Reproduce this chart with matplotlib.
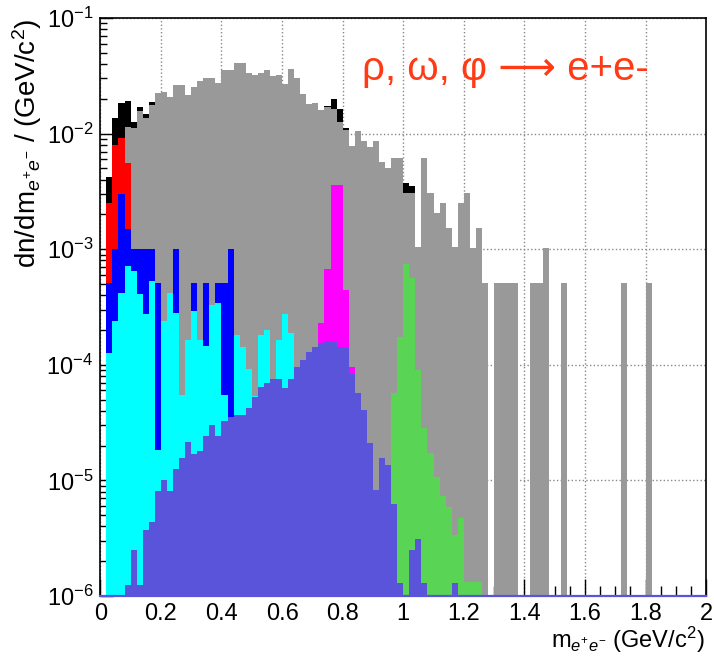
import numpy as np
import matplotlib
matplotlib.use('Agg')
import matplotlib.pyplot as plt
from matplotlib.ticker import MultipleLocator, FuncFormatter, LogLocator

plt.rcParams['font.family'] = ['Liberation Sans', 'DejaVu Sans']
plt.rcParams['mathtext.fontset'] = 'custom'
plt.rcParams['mathtext.rm'] = 'Liberation Sans'
plt.rcParams['mathtext.it'] = 'Liberation Sans:italic'
plt.rcParams['mathtext.bf'] = 'Liberation Sans:bold'

# 100 bins of 0.02 GeV/c^2 between 0 and 2
bin_edges = np.linspace(0, 2, 101)

# each series: first filled bin + bin contents
black_start = 1
black = [4.2e-3, 1.37e-2, 1.85e-2, 1.93e-2, 1.27e-2, 1.70e-2, 1.48e-2, 1.89e-2,
         2.26e-2, 2.30e-2, 2.06e-2, 2.63e-2, 2.63e-2,
         2.16e-2, 2.55e-2, 2.85e-2, 3.01e-2, 3.01e-2,
         2.75e-2, 3.55e-2, 3.55e-2, 4.06e-2, 4.06e-2,
         3.36e-2, 3.21e-2, 3.36e-2, 3.55e-2, 3.15e-2,
         3.21e-2, 2.69e-2, 3.62e-2, 3.01e-2, 2.20e-2,
         1.80e-2, 1.83e-2, 1.60e-2, 1.75e-2, 1.98e-2,
         1.62e-2, 1.11e-2, 7.8e-3, 1.05e-2, 8.7e-3,
         7.7e-3, 8.7e-3, 5.65e-3, 5.07e-3, 6.2e-3,
         6.2e-3, 3.71e-3, 3.52e-3, 1.05e-3, 6.1e-3,
         3.08e-3, 2.05e-3, 2.53e-3, 1.53e-3, 1.05e-3,
         2.53e-3, 3.04e-3, 1.02e-3, 1.53e-3, 5.1e-4,
         0, 5.1e-4, 5.1e-4, 5.1e-4, 5.1e-4,
         0, 0, 5.1e-4, 5.1e-4, 1.02e-3,
         0, 0, 5.1e-4, 0, 0,
         0, 0, 0, 0, 0,
         0, 0, 5.1e-4, 0, 0,
         0, 5.1e-4]

gray_start = 4
gray = [1.13e-2, 1.11e-2, 1.57e-2, 1.37e-2, 1.77e-2,
        2.26e-2, 2.30e-2, 2.06e-2, 2.63e-2, 2.63e-2,
        2.16e-2, 2.55e-2, 2.85e-2, 3.01e-2, 3.01e-2,
        2.75e-2, 3.55e-2, 3.55e-2, 4.06e-2, 4.06e-2,
        3.36e-2, 3.21e-2, 3.36e-2, 3.55e-2, 3.15e-2,
        3.21e-2, 2.69e-2, 3.62e-2, 3.01e-2, 2.20e-2,
        1.80e-2, 1.83e-2, 1.60e-2, 1.71e-2, 1.62e-2,
        1.27e-2, 1.07e-2, 7.8e-3, 1.05e-2, 8.7e-3,
        7.7e-3, 8.7e-3, 5.65e-3, 5.07e-3, 6.2e-3,
        6.2e-3, 3.04e-3, 3.04e-3, 1.05e-3, 6.1e-3,
        3.08e-3, 2.05e-3, 2.53e-3, 1.53e-3, 1.05e-3,
        2.53e-3, 3.04e-3, 1.02e-3, 1.53e-3, 5.1e-4,
        0, 5.1e-4, 5.1e-4, 5.1e-4, 5.1e-4,
        0, 0, 5.1e-4, 5.1e-4, 1.02e-3,
        0, 0, 5.1e-4, 0, 0,
        0, 0, 0, 0, 0,
        0, 0, 5.1e-4, 0, 0,
        0, 5.1e-4]

red_start = 1
red = [2.49e-3, 7.96e-3, 9.1e-3, 5.53e-3]

blue_start = 1
blue = [5.07e-4, 1.0e-3, 3.0e-3, 1.5e-3, 1.0e-3, 1.0e-3, 1.0e-3, 1.0e-3,
        5.1e-4, 0, 0, 1.0e-3, 0, 0, 5.1e-4, 0, 5.1e-4, 0, 5.1e-4, 5.1e-4, 1.0e-3]

cyan_start = 1
cyan = [1.27e-4, 2.39e-4, 4.2e-4, 7.2e-4, 6.5e-4, 4.07e-4, 2.75e-4, 5.3e-4,
        1.83e-5, 2.39e-4, 4.2e-4, 2.8e-4, 5.5e-5, 1.64e-4, 2.9e-4, 1.64e-4,
        1.46e-4, 3.29e-4, 3.45e-4, 5.5e-5, 0, 1.81e-4, 1.44e-4, 9.2e-5,
        5.4e-5, 1.81e-4, 2.0e-4, 0, 1.64e-4, 2.75e-4, 1.88e-4]

magenta_start = 36
magenta = [2.31e-4, 6.8e-4, 3.59e-3, 3.59e-3, 4.43e-4, 9.6e-5]

green_start = 48
green = [5.7e-5, 1.75e-4, 7.4e-4, 5.6e-4, 9.0e-5, 2.83e-5, 1.72e-5, 1.08e-5,
         7.3e-6, 5.9e-6, 3.37e-6, 4.7e-6, 1.33e-6, 1.33e-6, 1.33e-6]

slate_start = 4
slate = [1.25e-6, 2.5e-6, 1.25e-6, 3.7e-6, 4.4e-6, 8.1e-6, 1.0e-5, 8.1e-6,
         1.25e-5, 1.55e-5, 2.16e-5, 1.68e-5, 1.81e-5, 2.42e-5, 3.0e-5, 2.42e-5,
         3.28e-5, 3.55e-5, 3.68e-5, 3.68e-5, 4.2e-5, 5.3e-5, 6.4e-5, 6.9e-5,
         7.6e-5, 7.6e-5, 6.25e-5, 7.6e-5, 9.6e-5, 1.1e-4, 1.3e-4, 1.44e-4,
         1.55e-4, 1.6e-4, 1.58e-4, 1.44e-4, 1.39e-4, 8.4e-5, 5.7e-5, 4.06e-5,
         2.12e-5, 8.3e-6, 1.55e-5, 1.36e-5, 6.3e-6, 1.29e-6, 0, 2.5e-6,
         3.1e-6, 1.29e-6, 0, 0, 0, 0, 1.29e-6]


def full(start, vals):
    h = np.zeros(len(bin_edges) - 1)
    h[start:start + len(vals)] = vals
    return h


series = [
    (black_start, black, '#000000'),
    (gray_start, gray, '#999999'),
    (red_start, red, '#ff0000'),
    (blue_start, blue, '#0000ff'),
    (cyan_start, cyan, '#00ffff'),
    (magenta_start, magenta, '#ff00ff'),
    (green_start, green, '#59d454'),
    (slate_start, slate, '#5954d9'),
]

fig = plt.figure(figsize=(7.14, 6.58), dpi=100)
ax = fig.add_axes([0.1405, 0.0942, 0.8485, 0.8784])

floor = 1e-9
for start, vals, col in series:
    h = full(start, vals)
    ax.stairs(np.where(h > 0, h, floor), bin_edges, fill=True,
              baseline=floor, color=col, lw=0)

ax.set_yscale('log')
ax.set_xlim(0, 2)
ax.set_ylim(1e-6, 1e-1)

ax.xaxis.set_major_locator(MultipleLocator(0.2))
ax.xaxis.set_minor_locator(MultipleLocator(0.05))
ax.xaxis.set_major_formatter(FuncFormatter(lambda v, p: '%g' % round(v, 2)))
ax.yaxis.set_major_locator(LogLocator(base=10, numticks=10))
ax.yaxis.set_minor_locator(LogLocator(base=10, subs=np.arange(2, 10), numticks=20))
ax.yaxis.set_major_formatter(FuncFormatter(
    lambda v, p: '$10^{%d}$' % int(round(np.log10(v)))))

ax.tick_params(which='both', direction='in', top=False, right=False,
               labelsize=17, width=1)
ax.tick_params(axis='x', which='major', length=12, pad=5)
ax.tick_params(axis='x', which='minor', length=7)
ax.tick_params(axis='y', which='major', length=9, pad=5)
ax.tick_params(axis='y', which='minor', length=5)

ax.set_axisbelow(True)
ax.grid(True, which='major', linestyle=':', color='#888888', linewidth=1)
for s in ax.spines.values():
    s.set_linewidth(1.2)
ax.spines['bottom'].set_color('#5954d9')
ax.spines['bottom'].set_linewidth(1.6)

ax.text(0.432, 0.893, 'ρ, ω, φ ⟶ e+e-', transform=ax.transAxes,
        fontsize=29, color='#ff3a14', ha='left', va='baseline')

fig.text(0.987, 0.016, r'm$_{e^{+}e^{-}}$ (GeV/c$^{2}$)', fontsize=17,
         ha='right', va='baseline')
fig.text(0.038, 0.972, r'dn/dm$_{e^{+}e^{-}}$ / (GeV/c$^{2}$)', fontsize=20,
         ha='center', va='top', rotation=90)

fig.savefig('out.png', dpi=100)
